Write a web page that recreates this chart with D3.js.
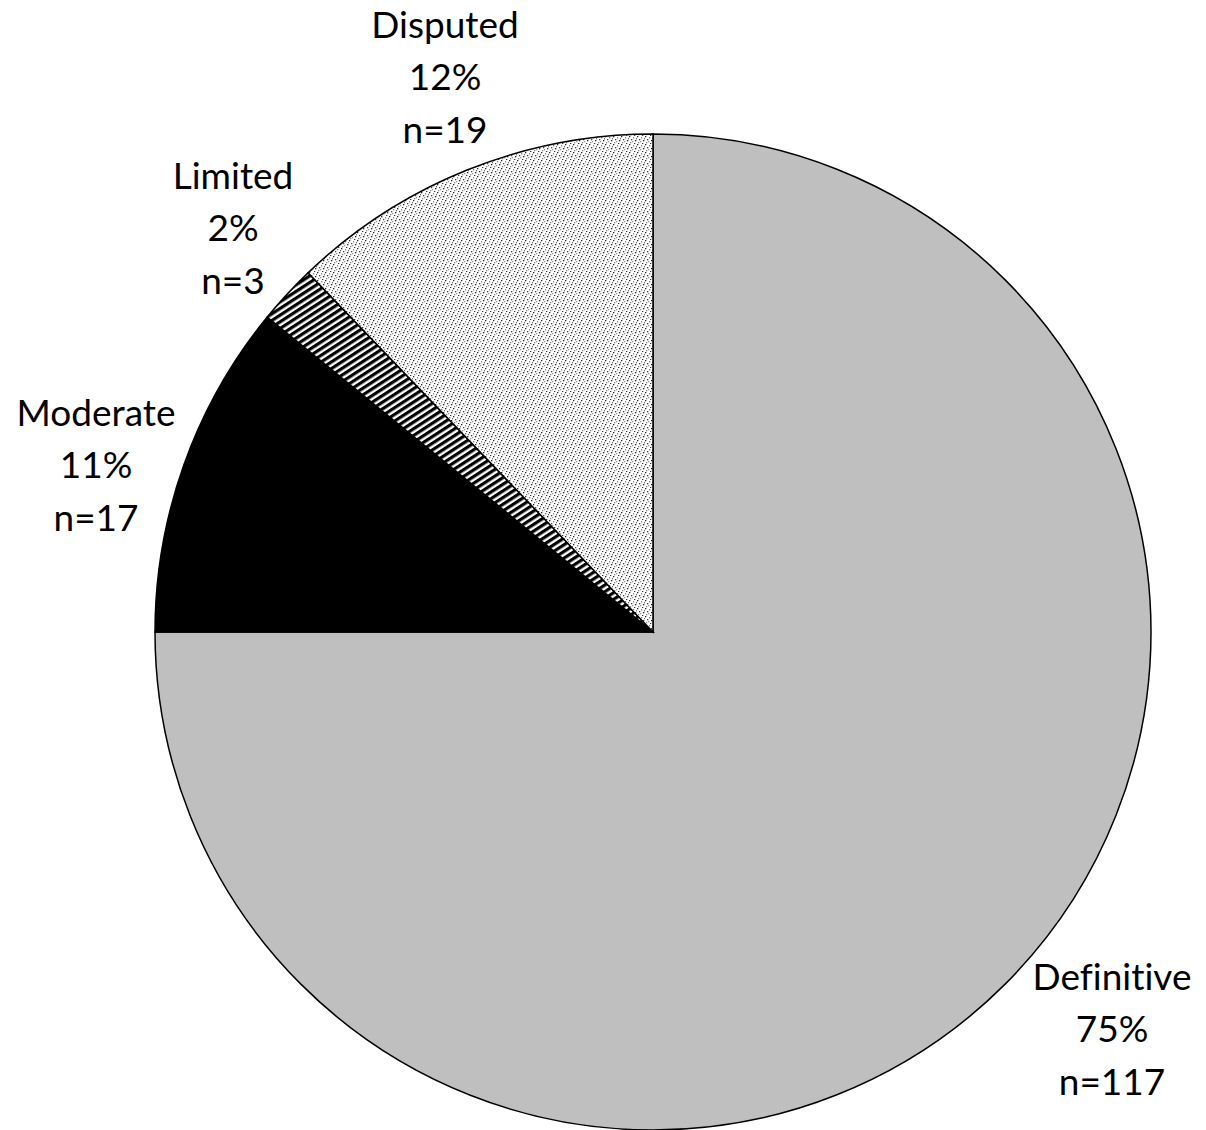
<!DOCTYPE html>
<html>
<head>
<meta charset="utf-8">
<script src="https://cdn.jsdelivr.net/npm/d3@7"></script>
<style>
  body { margin: 0; background: #fff; }
  text { font-family: Lato, "Open Sans", sans-serif; font-size: 37px; fill: #000; font-variant-ligatures: none; }
</style>
</head>
<body>
<svg></svg>
<script>
var categories = ["Definitive", "Moderate", "Limited", "Disputed"];
var counts = [117, 17, 3, 19];
var percents = ["75%", "11%", "2%", "12%"];

var width = 1206;
var height = 1130;
var cx = 653, cy = 632;
var radius = 498;

var svg = d3.select("svg")
            .attr("width", width)
            .attr("height", height);

var defs = svg.append("defs");

/* stripes for Limited */
var stripe = defs.append("pattern")
                 .attr("id", "stripes")
                 .attr("patternUnits", "userSpaceOnUse")
                 .attr("width", 6)
                 .attr("height", 5.6)
                 .attr("patternTransform", "rotate(-33)");
stripe.append("rect").attr("width", 6).attr("height", 5.6).attr("fill", "white");
stripe.append("rect").attr("width", 6).attr("height", 3.2).attr("fill", "black");

/* fine dots for Disputed */
var dots = defs.append("pattern")
               .attr("id", "dots")
               .attr("patternUnits", "userSpaceOnUse")
               .attr("width", 8)
               .attr("height", 8);
dots.append("rect").attr("width", 8).attr("height", 8).attr("fill", "white");
[[0,0,"#222"],[4,1,"#777"],[2,3,"#444"],[6,4,"#222"],[1,6,"#888"],[5,7,"#333"],[3,5,"#999"],[7,2,"#666"]]
  .forEach(function(d)
  {
    dots.append("rect")
        .attr("x", d[0]).attr("y", d[1])
        .attr("width", 1.3).attr("height", 1.3)
        .attr("fill", d[2]);
  });

var fills = ["#bfbfbf", "#000000", "url(#stripes)", "url(#dots)"];

var pie = d3.pie().sort(null);
var arc = d3.arc().innerRadius(0).outerRadius(radius);

var g = svg.append("g").attr("transform", "translate(" + cx + "," + cy + ")");

g.selectAll("path")
 .data(pie(counts))
 .enter()
 .append("path")
 .attr("d", arc)
 .attr("fill", function(d, i) { return fills[i]; })
 .attr("stroke", "black")
 .attr("stroke-width", 1.5);

/* label anchor positions */
var labelPos = [[1112, 977], [96, 413], [233, 176], [445, 25]];

var labels = svg.selectAll("g.lab")
                .data(categories)
                .enter()
                .append("g")
                .attr("class", "lab")
                .attr("transform", function(d, i)
                {
                  return "translate(" + labelPos[i][0] + "," + labelPos[i][1] + ")";
                });

labels.each(function(d, i)
{
  var lines = [d, percents[i], "n=" + counts[i]];
  d3.select(this).selectAll("text")
    .data(lines)
    .enter()
    .append("text")
    .attr("x", 0)
    .attr("y", function(t, j) { return j * 52.5; })
    .attr("dy", "0.35em")
    .attr("text-anchor", "middle")
    .text(function(t) { return t; });
});
</script>
</body>
</html>
